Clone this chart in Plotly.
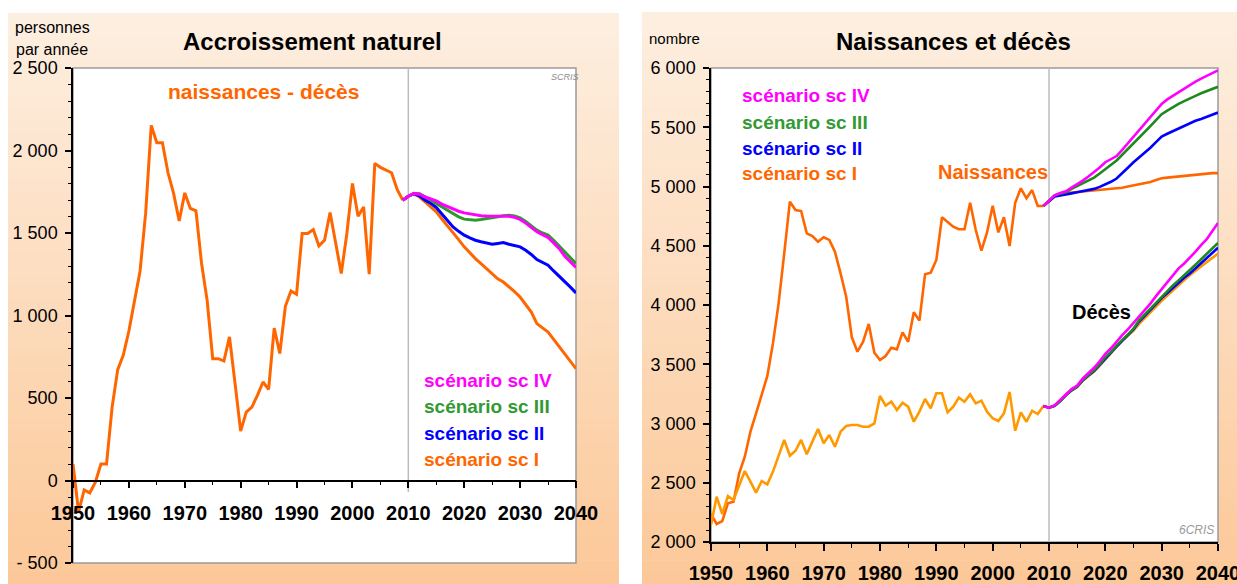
import plotly.graph_objects as go

W, H = 1237, 584

# ---------------- DATA ----------------
years_hist = list(range(1950, 2010))
years_proj = list(range(2009, 2041))

# Left chart: natural increase (births - deaths), historical
growth_hist = [100, -190, -57, -75, -10, 100, 100, 445, 672, 760,
               906, 1090, 1270, 1620, 2152, 2047, 2047, 1865, 1740, 1573,
               1743, 1649, 1634, 1317, 1092, 738, 738, 724, 870, 587,
               299, 415, 445, 516, 597, 552, 924, 770, 1056, 1149,
               1129, 1497, 1497, 1521, 1422, 1456, 1624, 1440, 1254, 1497,
               1800, 1602, 1658, 1250, 1922, 1898, 1881, 1865, 1764, 1699]
growth_sc4 = [1699, 1723, 1740, 1735, 1718, 1705, 1695, 1675, 1660, 1645,
              1632, 1622, 1615, 1610, 1605, 1603, 1602, 1600, 1602, 1602,
              1595, 1582, 1560, 1535, 1507, 1490, 1473, 1440, 1405, 1359,
              1328, 1291]
growth_sc3 = [1699, 1723, 1740, 1738, 1720, 1700, 1679, 1655, 1635, 1618,
              1598, 1584, 1580, 1578, 1582, 1586, 1590, 1598, 1605, 1608,
              1603, 1592, 1570, 1545, 1517, 1500, 1487, 1455, 1420, 1385,
              1350, 1315]
growth_sc2 = [1699, 1723, 1738, 1725, 1699, 1680, 1655, 1615, 1572, 1537,
              1510, 1487, 1470, 1456, 1447, 1440, 1432, 1437, 1442, 1432,
              1425, 1416, 1395, 1370, 1339, 1322, 1305, 1270, 1238, 1208,
              1172, 1137]
growth_sc1 = [1699, 1723, 1738, 1718, 1689, 1660, 1628, 1585, 1545, 1507,
              1460, 1416, 1380, 1345, 1315, 1285, 1254, 1222, 1203, 1175,
              1145, 1112, 1068, 1021, 951, 928, 900, 855, 809, 765,
              722, 678]

# Right chart: births and deaths
births_hist = [2236, 2152, 2177, 2327, 2340, 2580, 2720, 2931, 3086, 3255,
               3401, 3677, 4014, 4436, 4872, 4802, 4793, 4605, 4582, 4534,
               4571, 4549, 4450, 4267, 4070, 3727, 3606, 3690, 3840, 3597,
               3536, 3570, 3640, 3626, 3769, 3690, 3938, 3868, 4259, 4273,
               4380, 4740, 4703, 4661, 4639, 4639, 4863, 4633, 4458, 4612,
               4838, 4613, 4740, 4498, 4863, 4985, 4900, 4970, 4835, 4835]
deaths_hist = [2143, 2382, 2236, 2388, 2354, 2481, 2599, 2509, 2416, 2515,
               2487, 2594, 2734, 2861, 2728, 2770, 2861, 2740, 2847, 2954,
               2833, 2903, 2804, 2931, 2979, 2987, 2987, 2973, 2973, 3001,
               3232, 3150, 3184, 3114, 3175, 3142, 3015, 3100, 3207, 3128,
               3255, 3255, 3094, 3142, 3218, 3184, 3246, 3170, 3193, 3100,
               3044, 3021, 3086, 3266, 2939, 3094, 3015, 3108, 3080, 3148]

births_sc4 = [4835, 4876, 4925, 4945, 4960, 4990, 5017, 5050, 5085, 5119,
              5160, 5205, 5230, 5257, 5310, 5365, 5422, 5475, 5530, 5581,
              5640, 5697, 5735, 5765, 5798, 5825, 5855, 5885, 5910, 5934,
              5955, 5980]
births_sc3 = [4835, 4876, 4925, 4940, 4951, 4980, 5003, 5025, 5050, 5075,
              5110, 5147, 5183, 5220, 5268, 5315, 5364, 5412, 5460, 5509,
              5560, 5610, 5640, 5670, 5697, 5720, 5740, 5765, 5787, 5806,
              5825, 5841]
births_sc2 = [4835, 4876, 4915, 4925, 4931, 4942, 4951, 4960, 4970, 4980,
              4997, 5017, 5040, 5067, 5110, 5158, 5205, 5245, 5287, 5327,
              5375, 5422, 5445, 5467, 5488, 5515, 5538, 5555, 5570, 5587,
              5608, 5624]
births_sc1 = [4835, 4876, 4915, 4935, 4945, 4950, 4954, 4958, 4962, 4965,
              4970, 4974, 4977, 4980, 4990, 5000, 5009, 5018, 5028, 5038,
              5055, 5069, 5075, 5080, 5084, 5090, 5098, 5103, 5108, 5113,
              5113, 5113]

deaths_sc4 = [3148, 3133, 3152, 3195, 3245, 3290, 3320, 3380, 3425, 3470,
              3525, 3587, 3635, 3694, 3745, 3795, 3847, 3900, 3955, 4012,
              4075, 4136, 4190, 4250, 4309, 4350, 4396, 4450, 4505, 4555,
              4625, 4691]
deaths_sc3 = [3148, 3133, 3150, 3190, 3240, 3282, 3312, 3370, 3410, 3448,
              3500, 3558, 3605, 3659, 3705, 3750, 3800, 3870, 3920, 3971,
              4020, 4072, 4120, 4165, 4208, 4255, 4295, 4340, 4385, 4431,
              4475, 4523]
deaths_sc2 = [3148, 3133, 3150, 3190, 3240, 3280, 3310, 3365, 3405, 3443,
              3495, 3550, 3598, 3650, 3700, 3745, 3795, 3860, 3910, 3957,
              4010, 4058, 4100, 4145, 4185, 4230, 4266, 4310, 4355, 4396,
              4440, 4483]
deaths_sc1 = [3148, 3133, 3150, 3190, 3238, 3278, 3308, 3360, 3400, 3438,
              3488, 3540, 3590, 3640, 3700, 3740, 3783, 3840, 3890, 3934,
              3985, 4035, 4080, 4125, 4165, 4210, 4252, 4290, 4325, 4361,
              4398, 4434]

x_ticks = list(range(1950, 2041, 10))
left_ytick_vals = [-500, 0, 500, 1000, 1500, 2000, 2500]
left_ytick_text = ["- 500", "0", "500", "1 000", "1 500", "2 000", "2 500"]
right_ytick_vals = [2000, 2500, 3000, 3500, 4000, 4500, 5000, 5500, 6000]
right_ytick_text = ["2 000", "2 500", "3 000", "3 500", "4 000", "4 500",
                    "5 000", "5 500", "6 000"]

scenario_labels = ["scénario sc IV", "scénario sc III", "scénario sc II", "scénario sc I"]

# ---------------- STYLE ----------------
FONT = "Liberation Sans, Arial, sans-serif"
ORANGE = "#FF6600"
AMBER = "#FF9900"
MAGENTA = "#FF00FF"
GREEN_T = "#339933"
GREEN_L = "#2E9A2E"
GREEN_R = "#1E8A1E"
BLUE = "#0000FF"
LEG_COLORS = [MAGENTA, GREEN_T, BLUE, ORANGE]


def fx(px):
    return px / W


def fy(py):
    return 1 - py / H


L_X = (73, 576)
L_Y = (68, 563)
R_X = (711, 1218)
R_Y = (68, 542)

fig = go.Figure()

# left chart traces
lw = 3
fig.add_trace(go.Scatter(x=years_hist, y=growth_hist, mode="lines",
                         line=dict(color=ORANGE, width=lw), xaxis="x", yaxis="y"))
for vals, col in [(growth_sc1, ORANGE), (growth_sc2, BLUE),
                  (growth_sc3, GREEN_L), (growth_sc4, MAGENTA)]:
    fig.add_trace(go.Scatter(x=years_proj, y=vals, mode="lines",
                             line=dict(color=col, width=lw), xaxis="x", yaxis="y"))

# right chart traces
rw = 2.6
fig.add_trace(go.Scatter(x=years_hist, y=births_hist, mode="lines",
                         line=dict(color=ORANGE, width=rw), xaxis="x2", yaxis="y2"))
fig.add_trace(go.Scatter(x=years_hist, y=deaths_hist, mode="lines",
                         line=dict(color=AMBER, width=rw), xaxis="x2", yaxis="y2"))
for vals, col in [(births_sc1, ORANGE), (births_sc2, BLUE),
                  (births_sc3, GREEN_R), (births_sc4, MAGENTA),
                  (deaths_sc1, AMBER), (deaths_sc2, BLUE),
                  (deaths_sc3, GREEN_R), (deaths_sc4, MAGENTA)]:
    fig.add_trace(go.Scatter(x=years_proj, y=vals, mode="lines",
                             line=dict(color=col, width=rw), xaxis="x2", yaxis="y2"))

# ---------------- BACKGROUND ----------------
shapes = []
top_c = (253, 239, 225)
bot_c = (252, 200, 152)
n = 48
for (x0, x1, y0, y1) in [(8, 619, 13, 584), (642, 1237, 12, 584)]:
    for i in range(n):
        t = (i + 0.5) / n
        c = tuple(int(round(top_c[k] + (bot_c[k] - top_c[k]) * t)) for k in range(3))
        ya = y0 + (y1 - y0) * i / n
        yb = y0 + (y1 - y0) * (i + 1) / n + 0.6
        shapes.append(dict(type="rect", xref="paper", yref="paper", layer="below",
                           x0=fx(x0), x1=fx(x1), y0=fy(yb), y1=fy(ya),
                           fillcolor="rgb(%d,%d,%d)" % c, line=dict(width=0)))
for (xs, ys) in [(L_X, L_Y), (R_X, R_Y)]:
    shapes.append(dict(type="rect", xref="paper", yref="paper", layer="below",
                       x0=fx(xs[0]), x1=fx(xs[1]), y0=fy(ys[1]), y1=fy(ys[0]),
                       fillcolor="white", line=dict(color="#9A9A9A", width=1.5)))
# 2010 separators
shapes.append(dict(type="line", xref="x", yref="y", layer="below",
                   x0=2010, x1=2010, y0=-70, y1=2500,
                   line=dict(color="#BDBDBD", width=1.5)))
shapes.append(dict(type="line", xref="x2", yref="y2", layer="below",
                   x0=2010, x1=2010, y0=2000, y1=6000,
                   line=dict(color="#BDBDBD", width=1.5)))

# ---------------- ANNOTATIONS ----------------
ann = []


def text(px, py, s, size, color="black", bold=False, italic=False, xanchor="center"):
    ann.append(dict(x=fx(px), y=fy(py), xref="paper", yref="paper", text=s,
                    showarrow=False, xanchor=xanchor, yanchor="middle",
                    font=dict(family=FONT, size=size, color=color,
                              weight="bold" if bold else "normal",
                              style="italic" if italic else "normal")))


text(312, 42, "Accroissement naturel", 24, bold=True)
text(953, 42, "Naissances et décès", 24, bold=True)
text(52, 28, "personnes", 16)
text(52, 49, "par année", 16)
text(675, 38, "nombre", 15)
text(263, 92, "naissances - décès", 21, color=ORANGE, bold=True)
text(565, 77, "SCRIS", 9, color="#8C8C8C", italic=True)
text(1196, 530, "6CRIS", 12, color="#9A9A9A", italic=True)
for i, (lab, col) in enumerate(zip(scenario_labels, LEG_COLORS)):
    text(422, [380, 406, 433, 459][i], lab, 19, color=col, bold=True, xanchor="left")
    text(740, [95, 122, 148, 174][i], lab, 19, color=col, bold=True, xanchor="left")
text(993, 172, "Naissances", 20, color=ORANGE, bold=True)
text(1101, 312, "Décès", 20, bold=True)

# ---------------- AXES ----------------
ly_dom = [fy(L_Y[1]), fy(L_Y[0])]
zero_pos = ly_dom[0] + (ly_dom[1] - ly_dom[0]) * (0 - (-500)) / 3000

xcommon = dict(range=[1950, 2040], tickvals=x_ticks, ticks="outside", ticklen=7,
               tickwidth=1.5, tickcolor="black", showline=True, linecolor="black",
               linewidth=1.5, showgrid=False, zeroline=False, automargin=False,
               tickfont=dict(family=FONT, size=20, color="black", weight="bold"),
               ticklabeloverflow="allow",
               minor=dict(dtick=5, ticks="outside", ticklen=4, tickcolor="black",
                          tickwidth=1.2, showgrid=False))
ycommon = dict(ticks="outside", ticklen=6, tickwidth=1.5, tickcolor="black",
               showline=True, linecolor="black", linewidth=1.5, showgrid=False,
               zeroline=False, ticklabelstandoff=4, automargin=False,
               tickfont=dict(family=FONT, size=18, color="black"),
               minor=dict(dtick=100, ticks="outside", ticklen=3, tickcolor="black",
                          tickwidth=1.2, showgrid=False))

fig.update_layout(
    width=W, height=H, autosize=False,
    margin=dict(l=0, r=0, t=0, b=0, pad=0, autoexpand=False),
    paper_bgcolor="white", plot_bgcolor="rgba(0,0,0,0)",
    showlegend=False,
    font=dict(family=FONT),
    xaxis=dict(domain=[fx(L_X[0]), fx(L_X[1])], anchor="free", position=zero_pos,
               ticklabelstandoff=8, **xcommon),
    yaxis=dict(domain=ly_dom, range=[-500, 2500], tickvals=left_ytick_vals,
               ticktext=left_ytick_text, anchor="x", **ycommon),
    xaxis2=dict(domain=[fx(R_X[0]), fx(R_X[1])], anchor="y2",
                ticklabelstandoff=5, **xcommon),
    yaxis2=dict(domain=[fy(R_Y[1]), fy(R_Y[0])], range=[2000, 6000],
                tickvals=right_ytick_vals, ticktext=right_ytick_text,
                anchor="x2", **ycommon),
    shapes=shapes,
    annotations=ann,
)

fig.write_html("out.html", config={"displayModeBar": False},
               post_script="document.body.style.margin='0';document.body.style.overflow='hidden';")
